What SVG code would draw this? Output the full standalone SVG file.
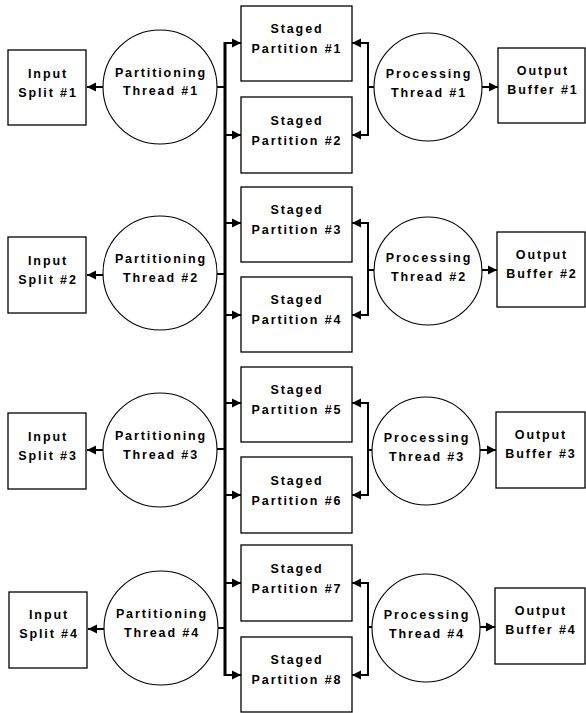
<svg xmlns="http://www.w3.org/2000/svg" width="586" height="713" viewBox="0 0 586 713">
<defs>
<marker id="ah" markerUnits="userSpaceOnUse" markerWidth="10" markerHeight="10" refX="9" refY="5" orient="auto">
<path d="M0,0.5 L9,5 L0,9.5 Z" fill="#000"/>
</marker>
</defs>
<style>
.box{fill:#fff;stroke:#000;stroke-width:1.3}
.circ{fill:#fff;stroke:#000;stroke-width:1.1}
.t{font-family:"Liberation Sans",Arial,sans-serif;font-weight:bold;font-size:12.5px;letter-spacing:1.9px;text-anchor:middle;fill:#000}
.c{fill:none;stroke:#000;stroke-width:2}
.a{fill:none;stroke:#000;stroke-width:2;marker-end:url(#ah)}
.bus{fill:none;stroke:#000;stroke-width:3}
</style>
<rect width="586" height="713" fill="#fff"/>
<g id="connectors">
<line class="bus" x1="225" y1="42" x2="225" y2="676"/>
<line class="a" x1="103" y1="87" x2="87" y2="87"/>
<line class="a" x1="103" y1="275" x2="87" y2="275"/>
<line class="a" x1="103" y1="450" x2="87" y2="450"/>
<line class="a" x1="104" y1="629" x2="88" y2="629"/>
<line class="c" x1="217" y1="87" x2="225" y2="87"/>
<line class="c" x1="217" y1="274" x2="225" y2="274"/>
<line class="c" x1="217" y1="449" x2="225" y2="449"/>
<line class="c" x1="218" y1="628" x2="225" y2="628"/>
<line class="a" x1="225" y1="43" x2="241" y2="43"/>
<line class="a" x1="225" y1="135" x2="241" y2="135"/>
<line class="a" x1="225" y1="223" x2="241" y2="223"/>
<line class="a" x1="225" y1="315" x2="241" y2="315"/>
<line class="a" x1="225" y1="403" x2="241" y2="403"/>
<line class="a" x1="225" y1="495" x2="241" y2="495"/>
<line class="a" x1="225" y1="583" x2="241" y2="583"/>
<line class="a" x1="225" y1="675" x2="241" y2="675"/>
<path class="c" d="M368,42 V136"/>
<path class="c" d="M368,222 V316"/>
<path class="c" d="M368,402 V496"/>
<path class="c" d="M368,582 V676"/>
<line class="a" x1="369" y1="43" x2="352" y2="43"/>
<line class="a" x1="369" y1="135" x2="352" y2="135"/>
<line class="a" x1="369" y1="223" x2="352" y2="223"/>
<line class="a" x1="369" y1="315" x2="352" y2="315"/>
<line class="a" x1="369" y1="403" x2="352" y2="403"/>
<line class="a" x1="369" y1="495" x2="352" y2="495"/>
<line class="a" x1="369" y1="583" x2="352" y2="583"/>
<line class="a" x1="369" y1="675" x2="352" y2="675"/>
<line class="c" x1="368" y1="87" x2="374" y2="87"/>
<line class="c" x1="368" y1="270" x2="374" y2="270"/>
<line class="c" x1="368" y1="450" x2="372" y2="450"/>
<line class="c" x1="368" y1="627" x2="372" y2="627"/>
<line class="a" x1="482" y1="87" x2="498" y2="87"/>
<line class="a" x1="482" y1="270" x2="497" y2="270"/>
<line class="a" x1="480" y1="450" x2="496" y2="450"/>
<line class="a" x1="480" y1="627" x2="495" y2="627"/>
</g>
<g id="input1"><rect class="box" x="8" y="50" width="78" height="75"/><text class="t" x="48" y="78">Input</text><text class="t" x="48" y="97">Split #1</text></g>
<g id="input2"><rect class="box" x="8" y="237" width="78" height="76"/><text class="t" x="48" y="265">Input</text><text class="t" x="48" y="284">Split #2</text></g>
<g id="input3"><rect class="box" x="8" y="413" width="78" height="76"/><text class="t" x="48" y="441">Input</text><text class="t" x="48" y="460">Split #3</text></g>
<g id="input4"><rect class="box" x="9" y="592" width="78" height="76"/><text class="t" x="49" y="619">Input</text><text class="t" x="49" y="638">Split #4</text></g>
<g id="part1"><circle class="circ" cx="160" cy="87" r="57"/><text class="t" x="161" y="77">Partitioning</text><text class="t" x="161" y="95">Thread #1</text></g>
<g id="part2"><circle class="circ" cx="160" cy="273" r="57"/><text class="t" x="161" y="263">Partitioning</text><text class="t" x="161" y="282">Thread #2</text></g>
<g id="part3"><circle class="circ" cx="160" cy="450" r="57"/><text class="t" x="161" y="440">Partitioning</text><text class="t" x="161" y="459">Thread #3</text></g>
<g id="part4"><circle class="circ" cx="161" cy="628" r="57"/><text class="t" x="162" y="618">Partitioning</text><text class="t" x="162" y="637">Thread #4</text></g>
<g id="staged1"><rect class="box" x="241" y="6" width="111" height="75"/><text class="t" x="297" y="33">Staged</text><text class="t" x="297" y="53">Partition #1</text></g>
<g id="staged2"><rect class="box" x="241" y="97" width="111" height="76"/><text class="t" x="297" y="125">Staged</text><text class="t" x="297" y="145">Partition #2</text></g>
<g id="staged3"><rect class="box" x="241" y="187" width="111" height="75"/><text class="t" x="297" y="214">Staged</text><text class="t" x="297" y="234">Partition #3</text></g>
<g id="staged4"><rect class="box" x="241" y="277" width="111" height="75"/><text class="t" x="297" y="304">Staged</text><text class="t" x="297" y="324">Partition #4</text></g>
<g id="staged5"><rect class="box" x="241" y="367" width="111" height="75"/><text class="t" x="297" y="394">Staged</text><text class="t" x="297" y="414">Partition #5</text></g>
<g id="staged6"><rect class="box" x="241" y="457" width="111" height="76"/><text class="t" x="297" y="485">Staged</text><text class="t" x="297" y="505">Partition #6</text></g>
<g id="staged7"><rect class="box" x="241" y="545" width="111" height="76"/><text class="t" x="297" y="573">Staged</text><text class="t" x="297" y="593">Partition #7</text></g>
<g id="staged8"><rect class="box" x="241" y="637" width="111" height="75"/><text class="t" x="297" y="664">Staged</text><text class="t" x="297" y="684">Partition #8</text></g>
<g id="proc1"><circle class="circ" cx="428" cy="87" r="54"/><text class="t" x="429" y="78">Processing</text><text class="t" x="429" y="97">Thread #1</text></g>
<g id="proc2"><circle class="circ" cx="428" cy="271" r="54"/><text class="t" x="429" y="262">Processing</text><text class="t" x="429" y="281">Thread #2</text></g>
<g id="proc3"><circle class="circ" cx="426" cy="451" r="54"/><text class="t" x="427" y="442">Processing</text><text class="t" x="427" y="461">Thread #3</text></g>
<g id="proc4"><circle class="circ" cx="426" cy="628" r="54"/><text class="t" x="427" y="619">Processing</text><text class="t" x="427" y="638">Thread #4</text></g>
<g id="out1"><rect class="box" x="498" y="48" width="87" height="75"/><text class="t" x="543" y="75">Output</text><text class="t" x="543" y="94">Buffer #1</text></g>
<g id="out2"><rect class="box" x="497" y="232" width="88" height="75"/><text class="t" x="542" y="259">Output</text><text class="t" x="542" y="278">Buffer #2</text></g>
<g id="out3"><rect class="box" x="496" y="412" width="89" height="76"/><text class="t" x="541" y="439">Output</text><text class="t" x="541" y="458">Buffer #3</text></g>
<g id="out4"><rect class="box" x="495" y="588" width="90" height="76"/><text class="t" x="541" y="615">Output</text><text class="t" x="541" y="634">Buffer #4</text></g>
</svg>
